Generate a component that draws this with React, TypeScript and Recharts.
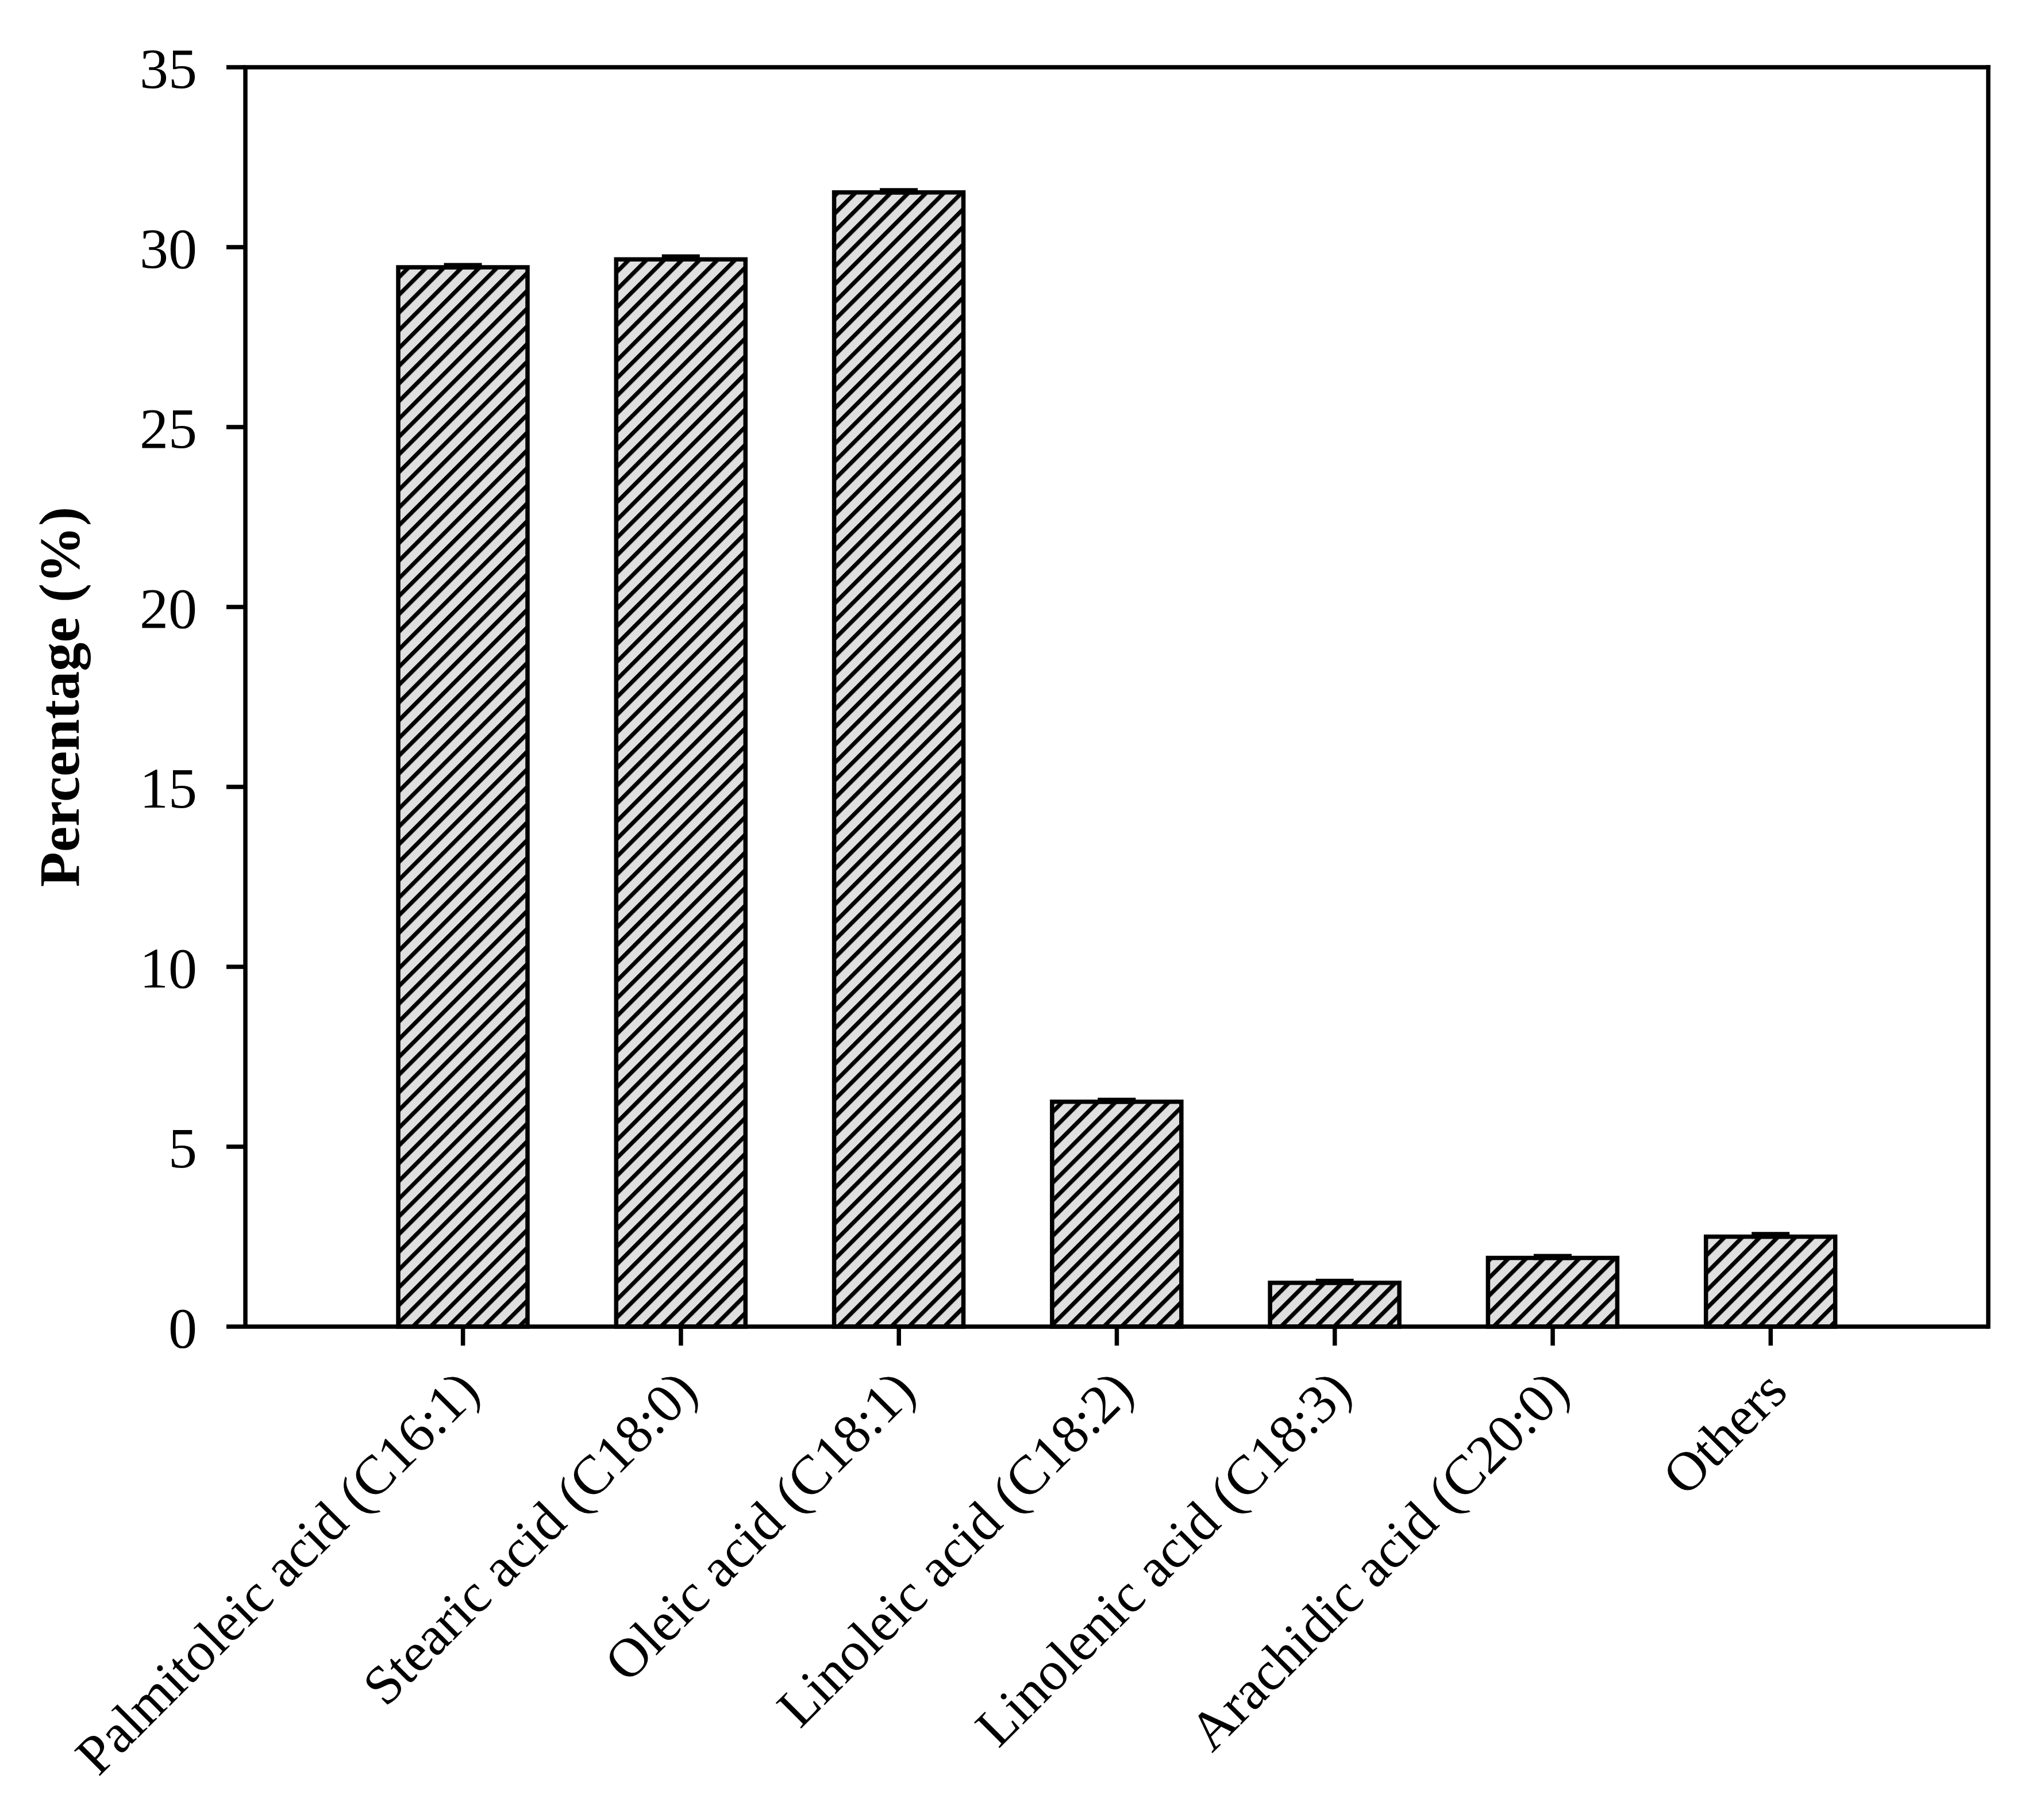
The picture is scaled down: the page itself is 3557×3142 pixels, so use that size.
import { BarChart, Bar, XAxis, YAxis, ErrorBar, CartesianGrid } from "recharts"

const categories = [
  "Palmitoleic acid (C16:1)",
  "Stearic acid (C18:0)",
  "Oleic acid (C18:1)",
  "Linoleic acid (C18:2)",
  "Linolenic acid (C18:3)",
  "Arachidic acid (C20:0)",
  "Others",
]
const percentages = [29.44, 29.66, 31.52, 6.25, 1.22, 1.91, 2.5]
const errors = [0.06, 0.08, 0.06, 0.05, 0.05, 0.05, 0.07]
const yTicks = [0, 5, 10, 15, 20, 25, 30, 35]

const data = categories.map((name, i) => ({
  name,
  value: percentages[i],
  // only the upper half of the error bar shows in the original
  err: [0, errors[i]],
}))

const FONT = '"Liberation Serif", "Times New Roman", serif'
const LINE = 7.5

function XTick(props: any) {
  const { x, y, payload } = props
  const tx = x + 33
  const ty = y + 84
  return (
    <text
      x={tx}
      y={ty}
      textAnchor="end"
      transform={`rotate(-45 ${tx} ${ty})`}
      fontFamily={FONT}
      fontSize={96}
      fill="#000"
    >
      {payload.value}
    </text>
  )
}

function YLabel(props: any) {
  const vb = props.viewBox || {}
  const cy = (vb.y ?? 117) + (vb.height ?? 2191) / 2
  const lx = 137
  return (
    <text
      x={lx}
      y={cy}
      textAnchor="middle"
      transform={`rotate(-90 ${lx} ${cy})`}
      fontFamily={FONT}
      fontWeight="bold"
      fontSize={100}
      fill="#000"
    >
      Percentage (%)
    </text>
  )
}

// top and right edges of the frame
const topEdge = (p: any) => [p.offset.top]
const rightEdge = (p: any) => [p.offset.left + p.offset.width]

export default function App() {
  return (
    <div style={{ position: "absolute", left: 0, top: 0, background: "#fff" }}>
      <BarChart
        width={3557}
        height={3142}
        data={data}
        margin={{ top: 117, right: 97, bottom: 0, left: 0 }}
      >
        <defs>
          <pattern
            id="hatch"
            patternUnits="userSpaceOnUse"
            width={21.8}
            height={21.8}
            patternTransform="rotate(45)"
          >
            <rect width={21.8} height={21.8} fill="#dfdfdf" />
            <rect x={0} y={0} width={7.2} height={21.8} fill="#000" />
          </pattern>
        </defs>
        <CartesianGrid
          stroke="#000"
          strokeWidth={LINE}
          strokeLinecap="square"
          horizontalCoordinatesGenerator={topEdge}
          verticalCoordinatesGenerator={rightEdge}
        />
        <XAxis
          dataKey="name"
          height={834}
          padding={{ left: 189, right: 189 }}
          interval={0}
          tickSize={33}
          tickMargin={0}
          axisLine={{ stroke: "#000", strokeWidth: LINE }}
          tickLine={{ stroke: "#000", strokeWidth: LINE }}
          tick={<XTick />}
        />
        <YAxis
          width={427}
          domain={[0, 35]}
          ticks={yTicks}
          interval={0}
          tickSize={33}
          tickMargin={51}
          axisLine={{ stroke: "#000", strokeWidth: LINE }}
          tickLine={{ stroke: "#000", strokeWidth: LINE }}
          tick={{ fontFamily: FONT, fontSize: 100, fill: "#000" }}
          label={{ content: YLabel }}
        />
        <Bar
          dataKey="value"
          barSize={225}
          fill="url(#hatch)"
          stroke="#000"
          strokeWidth={LINE}
          isAnimationActive={false}
        >
          <ErrorBar
            dataKey="err"
            direction="y"
            width={33}
            stroke="#000"
            strokeWidth={LINE}
            isAnimationActive={false}
          />
        </Bar>
      </BarChart>
    </div>
  )
}
